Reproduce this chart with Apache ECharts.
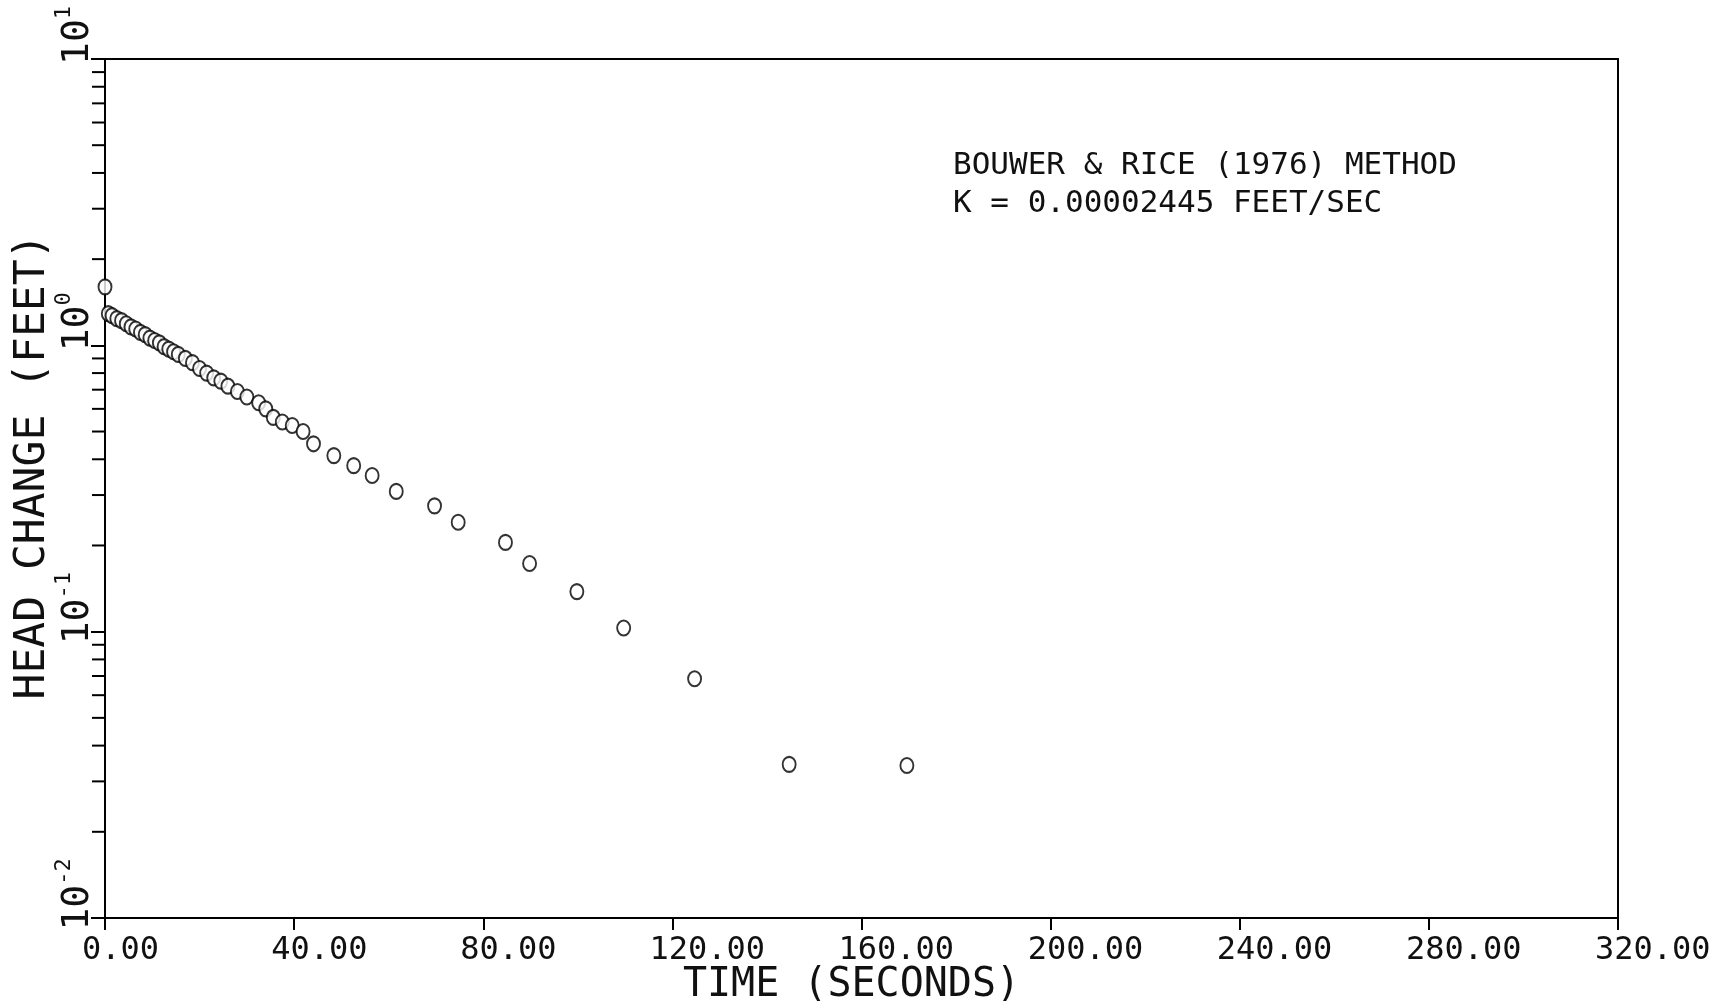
<!DOCTYPE html>
<html>
<head>
<meta charset="utf-8">
<script src="https://cdn.jsdelivr.net/npm/echarts@6/dist/echarts.min.js"></script>
<style>
html,body{margin:0;padding:0;background:#fff;}
#c{width:1727px;height:1001px;}
</style>
</head>
<body>
<div id="c"></div>
<script>
// Time (seconds) of each reading
var timeSec = [0.0, 0.7, 1.5, 2.5, 3.5, 4.5, 5.5, 6.5, 7.5, 8.5, 9.5, 10.5, 11.5, 12.5, 13.5, 14.5, 15.5, 17, 18.5, 20, 21.5, 23, 24.5, 26, 28, 30, 32.5, 34, 35.6, 37.5, 39.6, 41.9, 44.1, 48.4, 52.6, 56.5, 61.6, 69.7, 74.7, 84.7, 89.8, 99.8, 109.7, 124.7, 144.7, 169.6];
// Head change (feet) of each reading
var headFeet = [1.6, 1.29, 1.27, 1.24, 1.22, 1.19, 1.16, 1.14, 1.11, 1.09, 1.06, 1.04, 1.02, 0.99, 0.97, 0.95, 0.93, 0.90, 0.87, 0.83, 0.80, 0.77, 0.75, 0.72, 0.69, 0.66, 0.63, 0.60, 0.56, 0.54, 0.525, 0.50, 0.453, 0.412, 0.380, 0.351, 0.309, 0.275, 0.241, 0.205, 0.173, 0.138, 0.103, 0.0685, 0.0344, 0.0341];
// Axis tick values
var xTicks = [0, 40, 80, 120, 160, 200, 240, 280, 320];
var yMajorTicks = [0.01, 0.1, 1, 10];
var yMinorTicks = [0.02,0.03,0.04,0.05,0.06,0.07,0.08,0.09,0.2,0.3,0.4,0.5,0.6,0.7,0.8,0.9,2,3,4,5,6,7,8,9];
var annotationLines = ['BOUWER & RICE (1976) METHOD', 'K = 0.00002445 FEET/SEC'];

var FONT = '"DejaVu Sans Mono", "Liberation Mono", monospace';
var points = timeSec.map(function (t, i) { return [t, headFeet[i]]; });

var chart = echarts.init(document.getElementById('c'));
chart.setOption({
  backgroundColor: '#fff',
  animation: false,
  grid: { left: 105, right: 109, top: 59, bottom: 83, containLabel: false, outerBoundsMode: 'none',
          show: true, borderColor: '#000', borderWidth: 2, backgroundColor: 'transparent' },
  xAxis: {
    type: 'value', min: xTicks[0], max: xTicks[xTicks.length - 1], interval: 40,
    name: 'TIME (SECONDS)', nameLocation: 'middle', nameGap: 48, nameMoveOverlap: false,
    nameTextStyle: { fontFamily: FONT, fontSize: 40, color: '#111', padding: [0, 20, 0, 0] },
    axisLine: { lineStyle: { color: '#000', width: 2 } },
    axisTick: { show: true, inside: false, length: 12, lineStyle: { color: '#000', width: 2 } },
    axisLabel: {
      margin: 17, fontFamily: FONT, fontSize: 32, color: '#111',
      formatter: function (v) { return '{a|' + v.toFixed(2) + '}'; },
      rich: { a: { fontFamily: FONT, fontSize: 32, color: '#111', width: 46, align: 'left' } }
    },
    splitLine: { show: false }
  },
  yAxis: {
    type: 'log', logBase: 10, min: yMajorTicks[0], max: yMajorTicks[yMajorTicks.length - 1],
    name: 'HEAD CHANGE (FEET)', nameLocation: 'middle', nameGap: 51, nameMoveOverlap: false,
    nameTextStyle: { fontFamily: FONT, fontSize: 43, color: '#111', padding: [0, 0, 0, 44] },
    axisLine: { lineStyle: { color: '#000', width: 2 } },
    axisTick: { show: true, inside: false, length: 14, lineStyle: { color: '#000', width: 2 } },
    axisLabel: {
      rotate: 90, margin: 8, align: 'center', verticalAlign: 'bottom', padding: [0, 0, 0, 47],
      fontFamily: FONT, fontSize: 38, color: '#111',
      formatter: function (v) {
        var e = Math.round(Math.log(v) / Math.LN10);
        return '{b|10}{s|' + e + '}';
      },
      rich: {
        b: { fontFamily: FONT, fontSize: 38, color: '#111', verticalAlign: 'bottom' },
        s: { fontFamily: FONT, fontSize: 22, color: '#111', verticalAlign: 'top', padding: [0, 0, 22, 0] }
      }
    },
    splitLine: { show: false }
  },
  graphic: [
    { type: 'text', left: 953, top: 150, style: { text: annotationLines[0], font: '31px ' + FONT, fill: '#111' } },
    { type: 'text', left: 953, top: 188, style: { text: annotationLines[1], font: '31px ' + FONT, fill: '#111' } }
  ],
  series: [
    {
      type: 'custom', silent: true, clip: false,
      data: yMinorTicks.map(function (v) { return [0, v]; }),
      renderItem: function (params, api) {
        var p = api.coord([api.value(0), api.value(1)]);
        return { type: 'line', shape: { x1: p[0] - 13, y1: p[1], x2: p[0], y2: p[1] }, style: { stroke: '#000', lineWidth: 2 } };
      }
    },
    {
      type: 'scatter', data: points, symbol: 'emptyCircle', symbolSize: [13, 15],
      itemStyle: { color: '#000', borderColor: '#000', borderWidth: 2 },
      clip: false
    }
  ]
});
</script>
</body>
</html>
